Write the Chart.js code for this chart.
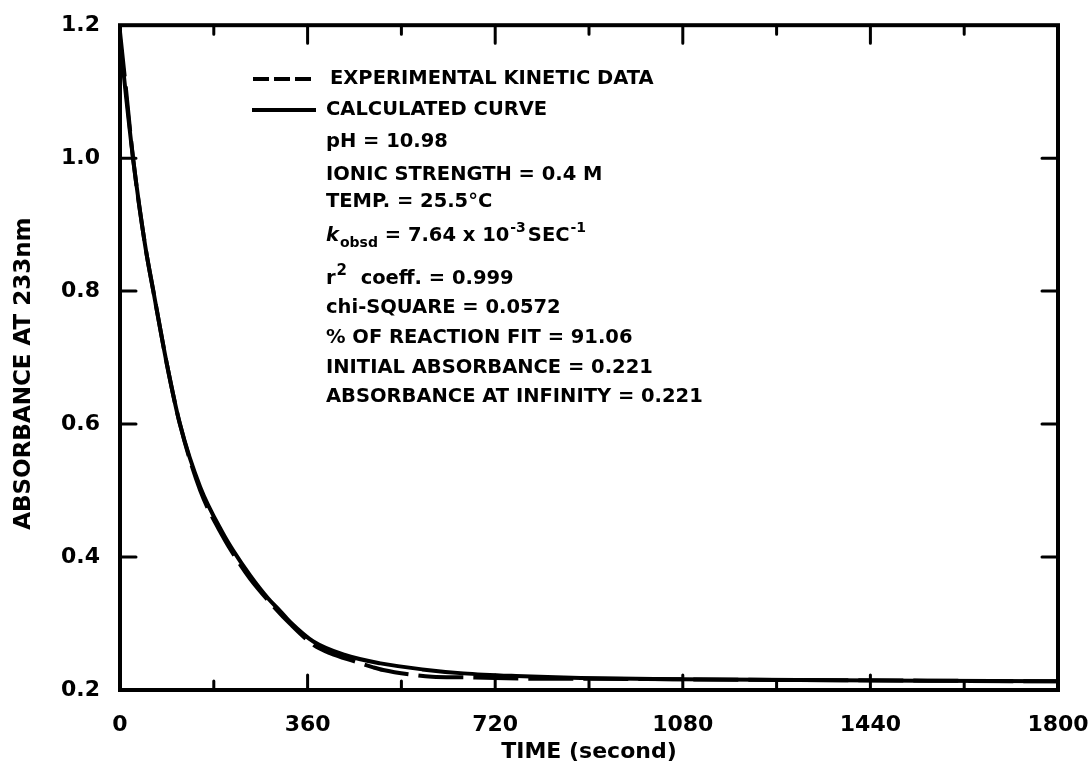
<!DOCTYPE html>
<html>
<head>
<meta charset="utf-8">
<title>Absorbance at 233nm vs time</title>
<script src="https://cdn.jsdelivr.net/npm/chart.js@4.4.1/dist/chart.umd.min.js"></script>
<style>
  html, body { margin: 0; padding: 0; background: #fff; }
  #wrap { width: 1091px; height: 772px; }
</style>
</head>
<body>
<div id="wrap"><canvas id="chart" width="1091" height="772"></canvas></div>
<script>
// values (time in seconds, absorbance)
const calcTime = [0, 12, 25, 48, 64, 90, 115, 154, 198, 217, 250, 284, 307, 327, 371, 430, 500, 580, 659, 760, 884, 1076, 1300, 1550, 1800];
const calcAbs  = [1.18, 1.09, 1.0, 0.87, 0.80, 0.69, 0.60, 0.505, 0.435, 0.41, 0.372, 0.338, 0.319, 0.302, 0.273, 0.253, 0.240, 0.231, 0.225, 0.221, 0.218, 0.216, 0.215, 0.214, 0.213];

const expTime = [0, 12, 25, 48, 64, 90, 115, 154, 198, 217, 250, 284, 327, 371, 404, 450, 486, 505, 560, 599, 660, 720, 800, 884, 1076, 1300, 1550, 1800];
const expAbs  = [1.19, 1.10, 1.0, 0.87, 0.80, 0.69, 0.60, 0.50, 0.43, 0.405, 0.367, 0.335, 0.299, 0.268, 0.255, 0.243, 0.234, 0.230, 0.223, 0.220, 0.219, 0.218, 0.217, 0.217, 0.216, 0.215, 0.214, 0.213];

const xTickValues = [0, 360, 720, 1080, 1440, 1800];
const xMinorValues = [180, 540, 900, 1260, 1620];
const yTickValues = [0.2, 0.4, 0.6, 0.8, 1.0, 1.2];

const legendLabels = ['EXPERIMENTAL KINETIC DATA', 'CALCULATED CURVE'];
const noteLines = [
    'pH = 10.98',
    'IONIC STRENGTH = 0.4 M',
    'TEMP. = 25.5°C',
    null, // k obsd line, drawn with sub/superscripts
    null, // r^2 line
    'chi-SQUARE = 0.0572',
    '% OF REACTION FIT = 91.06',
    'INITIAL ABSORBANCE = 0.221',
    'ABSORBANCE AT INFINITY = 0.221'
];

const FONT = '"DejaVu Sans", sans-serif';

// box around the plot + inward tick marks
const framePlugin = {
    id: 'frame',
    afterDatasetsDraw(chart) {
        const { ctx, chartArea: a, scales: { x, y } } = chart;
        ctx.save();
        ctx.strokeStyle = '#000';
        ctx.lineCap = 'round';
        ctx.lineWidth = 4;
        ctx.strokeRect(a.left, a.top, a.right - a.left, a.bottom - a.top);

        ctx.lineWidth = 3;
        ctx.beginPath();
        xTickValues.slice(1, -1).forEach(v => {
            const px = x.getPixelForValue(v);
            ctx.moveTo(px, a.bottom); ctx.lineTo(px, a.bottom - 15);
            ctx.moveTo(px, a.top); ctx.lineTo(px, a.top + 18);
        });
        xMinorValues.forEach(v => {
            const px = x.getPixelForValue(v);
            ctx.moveTo(px, a.bottom); ctx.lineTo(px, a.bottom - 9);
            ctx.moveTo(px, a.top); ctx.lineTo(px, a.top + 9);
        });
        yTickValues.slice(1, -1).forEach(v => {
            const py = y.getPixelForValue(v);
            ctx.moveTo(a.left, py); ctx.lineTo(a.left + 16, py);
            ctx.moveTo(a.right, py); ctx.lineTo(a.right - 16, py);
        });
        ctx.stroke();
        ctx.restore();
    }
};

// legend samples and the fit parameters block
const notesPlugin = {
    id: 'notes',
    afterDraw(chart) {
        const ctx = chart.ctx;
        const big = 'bold 19.5px ' + FONT;
        const small = 'bold 14px ' + FONT;
        const rows = [79, 110, 142, 175, 202, 236, 279, 308, 338, 368, 397];
        const tx = 326;

        ctx.save();
        ctx.fillStyle = '#000';
        ctx.strokeStyle = '#000';
        ctx.textBaseline = 'middle';
        ctx.textAlign = 'left';

        // legend line samples
        ctx.lineWidth = 4;
        ctx.setLineDash([16, 5]);
        ctx.beginPath(); ctx.moveTo(253, rows[0]); ctx.lineTo(316, rows[0]); ctx.stroke();
        ctx.setLineDash([]);
        ctx.beginPath(); ctx.moveTo(252, rows[1]); ctx.lineTo(316, rows[1]); ctx.stroke();

        ctx.font = big;
        ctx.fillText(legendLabels[0], 330, rows[0]);
        ctx.fillText(legendLabels[1], tx, rows[1]);

        noteLines.forEach((txt, i) => {
            if (txt) ctx.fillText(txt, tx, rows[i + 2]);
        });

        // k_obsd = 7.64 x 10^-3 SEC^-1
        let cx = tx;
        let cy = rows[5];
        ctx.font = 'italic ' + big;
        ctx.fillText('k', cx, cy);
        cx += ctx.measureText('k').width + 1;
        ctx.font = small;
        ctx.fillText('obsd', cx, cy + 7);
        cx += ctx.measureText('obsd').width;
        ctx.font = big;
        ctx.fillText(' = 7.64 x 10', cx, cy);
        cx += ctx.measureText(' = 7.64 x 10').width + 1;
        ctx.font = small;
        ctx.fillText('-3', cx, cy - 8);
        cx += ctx.measureText('-3').width + 2;
        ctx.font = big;
        ctx.fillText('SEC', cx, cy);
        cx += ctx.measureText('SEC').width + 1;
        ctx.font = small;
        ctx.fillText('-1', cx, cy - 8);

        // r^2 coeff. = 0.999
        cx = tx;
        cy = rows[6];
        ctx.font = big;
        ctx.fillText('r', cx, cy);
        cx += ctx.measureText('r').width + 1;
        ctx.font = 'bold 15px ' + FONT;
        ctx.fillText('2', cx, cy - 8);
        cx += ctx.measureText('2').width;
        ctx.font = big;
        ctx.fillText('  coeff. = 0.999', cx, cy);

        ctx.restore();
    }
};

const ctx = document.getElementById('chart').getContext('2d');
new Chart(ctx, {
    type: 'line',
    data: {
        datasets: [
            {
                label: 'EXPERIMENTAL KINETIC DATA',
                data: expTime.map((t, i) => ({ x: t, y: expAbs[i] })),
                borderColor: '#000',
                borderWidth: 4,
                borderDash: [45, 10],
                pointRadius: 0,
                cubicInterpolationMode: 'monotone',
                fill: false
            },
            {
                label: 'CALCULATED CURVE',
                data: calcTime.map((t, i) => ({ x: t, y: calcAbs[i] })),
                borderColor: '#000',
                borderWidth: 4,
                pointRadius: 0,
                cubicInterpolationMode: 'monotone',
                fill: false
            }
        ]
    },
    options: {
        responsive: false,
        animation: false,
        events: [],
        layout: { padding: { top: 24, right: 33, left: 0, bottom: 0 } },
        plugins: {
            legend: { display: false },
            tooltip: { enabled: false }
        },
        scales: {
            x: {
                type: 'linear',
                min: 0,
                max: 1800,
                grid: { display: false },
                border: { display: false },
                afterBuildTicks: s => { s.ticks = xTickValues.map(v => ({ value: v })); },
                afterFit: s => {
                    s.height = 82;
                    // don't let the last label push the plot edge in
                    s.paddingLeft = 0;
                    s.paddingRight = 0;
                },
                ticks: {
                    color: '#000',
                    padding: 14,
                    maxRotation: 0,
                    callback: v => String(v),
                    font: { family: FONT, size: 22, weight: 'bold' }
                },
                title: {
                    display: true,
                    text: 'TIME (second)',
                    color: '#000',
                    padding: { top: 0, bottom: 7 },
                    font: { family: FONT, size: 22, weight: 'bold' }
                }
            },
            y: {
                min: 0.2,
                max: 1.2,
                grid: { display: false },
                border: { display: false },
                afterBuildTicks: s => { s.ticks = yTickValues.map(v => ({ value: v })); },
                afterFit: s => { s.width = 120; },
                ticks: {
                    color: '#000',
                    padding: 12,
                    callback: v => v.toFixed(1),
                    font: { family: FONT, size: 22, weight: 'bold' }
                },
                title: {
                    display: true,
                    text: 'ABSORBANCE AT 233nm    ',
                    color: '#000',
                    padding: { top: 10, bottom: 0 },
                    font: { family: FONT, size: 23, weight: 'bold' }
                }
            }
        }
    },
    plugins: [framePlugin, notesPlugin]
});
</script>
</body>
</html>
